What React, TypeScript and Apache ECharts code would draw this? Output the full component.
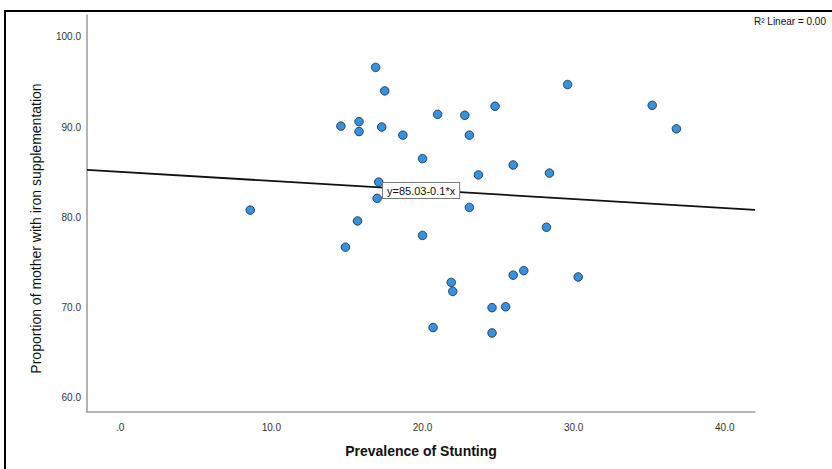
import React, { useEffect, useRef } from "react";
import * as echarts from "echarts";

// Scatter data
const stuntingPrevalence = [
  16.9, 17.5, 14.6, 15.8, 15.8, 17.3, 18.7, 21.0, 22.8, 24.8, 23.1, 20.0,
  23.7, 17.1, 17.0, 23.1, 8.6, 15.7, 14.9, 20.0, 21.9, 22.0, 24.6, 25.5,
  20.7, 24.6, 29.6, 35.2, 36.8, 26.0, 28.4, 28.2, 26.0, 26.7, 30.3,
];
const ironSupplementation = [
  96.6, 94.0, 90.1, 90.6, 89.5, 90.0, 89.1, 91.4, 91.3, 92.3, 89.1, 86.5,
  84.7, 83.9, 82.1, 81.1, 80.8, 79.6, 76.7, 78.0, 72.8, 71.8, 70.0, 70.1,
  67.8, 67.2, 94.7, 92.4, 89.8, 85.8, 84.9, 78.9, 73.6, 74.1, 73.4,
];
const xTickValues = [0, 10, 20, 30, 40];
const xTickLabels = [".0", "10.0", "20.0", "30.0", "40.0"];
const yTickValues = [60, 70, 80, 90, 100];
const yTickLabels = ["60.0", "70.0", "80.0", "90.0", "100.0"];
const fitIntercept = 85.03;
const fitSlope = -0.1;
const fitLabel = "y=85.03-0.1*x";
const r2Label = "R² Linear = 0.00";
const xTitle = "Prevalence of Stunting";
const yTitle = "Proportion of mother with iron supplementation";

const X_MIN = -2.2;
const X_MAX = 42.0;
const Y_MIN = 58.45;
const Y_MAX = 102.4;

const FONT = '"Liberation Sans", Arial, sans-serif';

function tickLabel(values: number[], labels: string[]) {
  return (v: number) => {
    for (let i = 0; i < values.length; i++) {
      if (Math.abs(values[i] - v) < 1e-6) return labels[i];
    }
    return "";
  };
}

export default function App() {
  const ref = useRef<HTMLDivElement>(null);
  useEffect(() => {
    if (!ref.current) return;
    const chart = echarts.init(ref.current, undefined, { renderer: "svg" });
    const points = stuntingPrevalence.map((x, i) => [x, ironSupplementation[i]]);
    const fitLine = [
      [X_MIN, fitIntercept + fitSlope * X_MIN],
      [X_MAX, fitIntercept + fitSlope * X_MAX],
    ];
    chart.setOption({
      animation: false,
      backgroundColor: "#ffffff",
      grid: { left: 87, top: 15, right: 77, bottom: 57, containLabel: false },
      xAxis: {
        type: "value",
        min: X_MIN,
        max: X_MAX,
        minInterval: 10,
        maxInterval: 10,
        name: xTitle,
        nameLocation: "middle",
        nameGap: 32,
        nameTextStyle: { fontFamily: FONT, fontSize: 14, fontWeight: "bold", color: "#111" },
        axisLine: { show: true, onZero: false, lineStyle: { color: "#9a9a9a", width: 1.5 } },
        axisTick: { show: false },
        splitLine: { show: false },
        axisLabel: {
          showMinLabel: false,
          showMaxLabel: false,
          margin: 10,
          fontFamily: FONT,
          fontSize: 10,
          color: "#333",
          formatter: tickLabel(xTickValues, xTickLabels),
        },
      },
      yAxis: {
        type: "value",
        min: Y_MIN,
        max: Y_MAX,
        minInterval: 10,
        maxInterval: 10,
        name: yTitle,
        nameLocation: "middle",
        nameRotate: 90,
        nameGap: 44,
        nameTextStyle: {
          fontFamily: FONT,
          fontSize: 14,
          color: "#111",
          padding: [0, 30, 0, 0],
        },
        axisLine: { show: true, onZero: false, lineStyle: { color: "#9a9a9a", width: 1.5 } },
        axisTick: { show: false },
        splitLine: { show: false },
        axisLabel: {
          showMinLabel: false,
          showMaxLabel: false,
          margin: 6,
          fontFamily: FONT,
          fontSize: 10,
          color: "#333",
          formatter: tickLabel(yTickValues, yTickLabels),
        },
      },
      series: [
        {
          type: "line",
          data: fitLine,
          showSymbol: false,
          symbol: "none",
          lineStyle: { color: "#111", width: 1.8 },
          z: 2,
        },
        {
          type: "scatter",
          data: points,
          symbol: "circle",
          symbolSize: 8.5,
          itemStyle: { color: "#0077dc", borderColor: "#15202a", borderWidth: 1 },
          z: 3,
        },
      ],
      graphic: [
        {
          type: "rect",
          shape: { x: 5, y: 11, width: 900, height: 600 },
          style: { fill: "none", stroke: "#000", lineWidth: 2 },
          silent: true,
          z: 0,
        },
        {
          type: "text",
          x: 383,
          y: 183,
          z: 10,
          style: {
            text: fitLabel,
            fontFamily: FONT,
            fontSize: 11,
            fill: "#111",
            backgroundColor: "#ffffff",
            borderColor: "#7a7a7a",
            borderWidth: 1,
            padding: [2, 4, 2, 4],
          },
        },
        {
          type: "text",
          x: 754,
          y: 16,
          z: 10,
          style: {
            text: r2Label,
            fontFamily: FONT,
            fontSize: 10,
            fill: "#111",
          },
        },
      ],
    });
    return () => chart.dispose();
  }, []);
  return (
    <div
      ref={ref}
      style={{ position: "fixed", left: 0, top: 0, width: 832, height: 469 }}
    />
  );
}
